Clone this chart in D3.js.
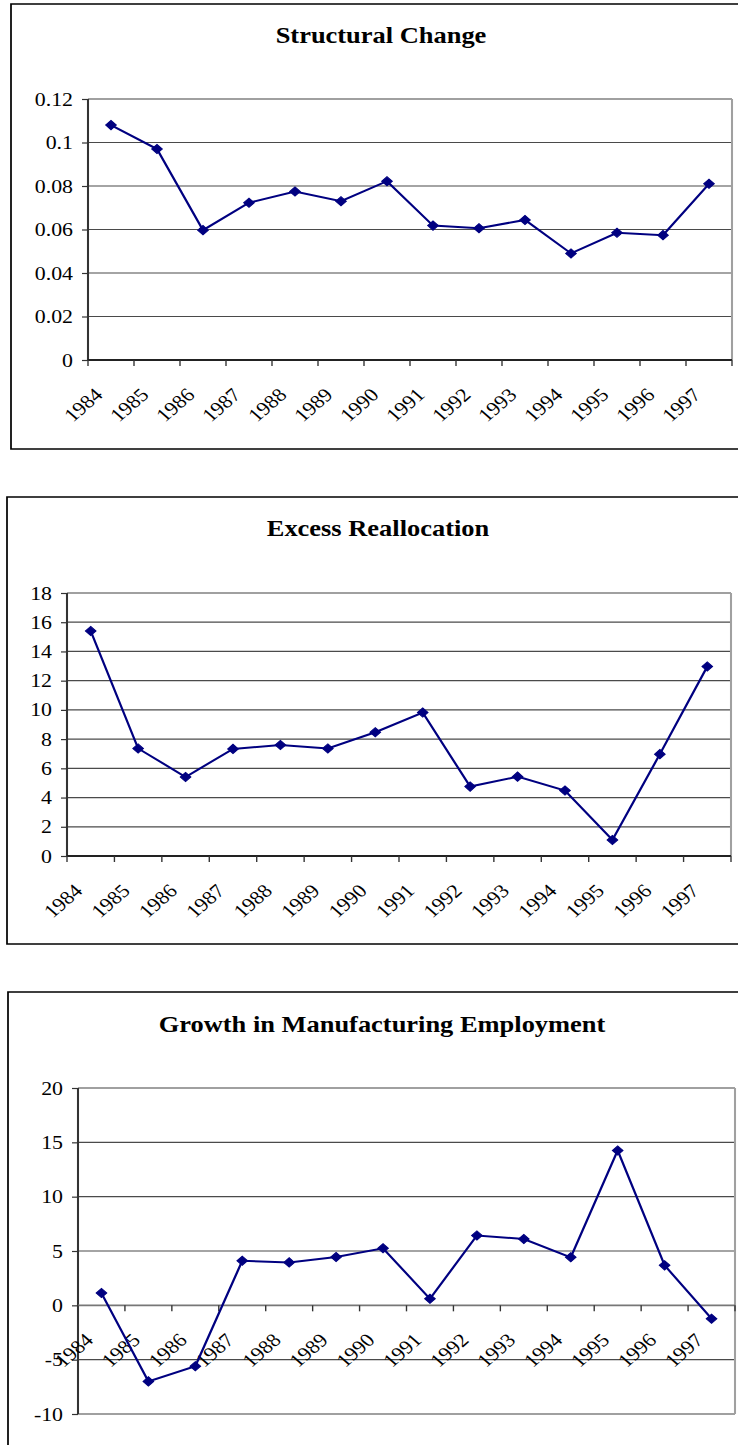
<!DOCTYPE html>
<html>
<head>
<meta charset="utf-8">
<script src="https://cdn.jsdelivr.net/npm/d3@7"></script>
<style>
  body { margin: 0; background: #fff; }
  svg { display: block; }
  text { font-family: "Liberation Serif", "Times New Roman", serif; fill: #000; }
</style>
</head>
<body>
<div id="canvas"></div>
<script>
// data
const years = ["1984", "1985", "1986", "1987", "1988", "1989", "1990",
  "1991", "1992", "1993", "1994", "1995", "1996", "1997"];

const structuralChange = [0.108, 0.097, 0.0597, 0.0723, 0.0775, 0.073, 0.0822,
  0.0618, 0.0606, 0.0644, 0.049, 0.0585, 0.0574, 0.081];
const structuralTicks = [0, 0.02, 0.04, 0.06, 0.08, 0.1, 0.12];

const excessRealloc = [15.4, 7.36, 5.41, 7.33, 7.6, 7.36, 8.47,
  9.82, 4.75, 5.43, 4.48, 1.1, 6.97, 12.97];
const excessTicks = [0, 2, 4, 6, 8, 10, 12, 14, 16, 18];

const mfgGrowth = [1.13, -7.0, -5.6, 4.1, 3.95, 4.45, 5.25,
  0.6, 6.43, 6.1, 4.42, 14.25, 3.68, -1.23];
const mfgTicks = [-10, -5, 0, 5, 10, 15, 20];

// the picture is a bit stretched sideways, so draw narrow and scale x
const SX = 1.15;
const width = 738;
const height = 1445;

const svg = d3.select("#canvas")
  .append("svg")
  .attr("width", width)
  .attr("height", height);

const root = svg.append("g").attr("transform", `scale(${SX},1)`);

function drawPanel(p) {
  const g = root.append("g");

  // outer frame
  g.append("rect")
    .attr("x", p.box.x / SX)
    .attr("y", p.box.y)
    .attr("width", (760 - p.box.x) / SX)
    .attr("height", p.box.h)
    .attr("fill", "#fff")
    .attr("stroke", "#000")
    .attr("stroke-width", 1.5);

  g.append("text")
    .attr("x", p.titleX / SX)
    .attr("y", p.titleY)
    .attr("text-anchor", "middle")
    .style("font-size", "23px")
    .style("font-weight", "bold")
    .text(p.title);

  const x = d3.scaleBand()
    .domain(years)
    .range([p.plot.l / SX, p.plot.r / SX])
    .padding(0);

  const y = d3.scaleLinear()
    .domain(d3.extent(p.ticks))
    .range([p.plot.b, p.plot.t]);

  const axisY = y(p.axisAt);
  const isEdge = (d) => d === d3.max(p.ticks) || d === d3.min(p.ticks);

  // gridlines
  g.selectAll(".grid")
    .data(p.ticks.filter((t) => t !== p.axisAt))
    .enter()
    .append("line")
    .attr("x1", x.range()[0])
    .attr("x2", x.range()[1])
    .attr("y1", (d) => y(d))
    .attr("y2", (d) => y(d))
    .attr("stroke", (d) => (isEdge(d) ? "#a0a0a0" : "#4a4a4a"))
    .attr("stroke-width", (d) => (isEdge(d) ? 1.8 : 1.2));

  // right border
  g.append("line")
    .attr("x1", x.range()[1]).attr("x2", x.range()[1])
    .attr("y1", p.plot.t).attr("y2", p.plot.b)
    .attr("stroke", "#a0a0a0").attr("stroke-width", 1.8);

  // y axis
  const yAxis = d3.axisLeft(y)
    .tickValues(p.ticks)
    .tickSize(6 / SX)
    .tickPadding(9 / SX)
    .tickFormat((d) => String(d));

  const ya = g.append("g")
    .attr("transform", `translate(${x.range()[0]},0)`)
    .call(yAxis);
  ya.select(".domain").remove();
  ya.selectAll(".tick line").attr("stroke", "#333").attr("stroke-width", 1.2);
  ya.selectAll(".tick text")
    .style("font-family", "'Liberation Serif', 'Times New Roman', serif")
    .style("font-size", "19px")
    .attr("fill", "#000");
  g.append("line")
    .attr("x1", x.range()[0]).attr("x2", x.range()[0])
    .attr("y1", p.plot.t).attr("y2", p.plot.b)
    .attr("stroke", "#333").attr("stroke-width", 1.8);

  // x axis line and ticks at band edges
  g.append("line")
    .attr("x1", x.range()[0]).attr("x2", x.range()[1])
    .attr("y1", axisY).attr("y2", axisY)
    .attr("stroke", p.axisAt === d3.min(p.ticks) ? "#222" : "#777")
    .attr("stroke-width", 1.8);

  const edges = years.map((d) => x(d)).concat([x.range()[1]]);
  g.selectAll(".xtick")
    .data(edges)
    .enter()
    .append("line")
    .attr("x1", (d) => d).attr("x2", (d) => d)
    .attr("y1", axisY).attr("y2", axisY + 6)
    .attr("stroke", "#333").attr("stroke-width", 1.2);

  // rotated year labels
  g.selectAll(".xlab")
    .data(years)
    .enter()
    .append("text")
    .attr("transform", (d) =>
      `translate(${x(d) + x.bandwidth() / 2 - 7 / SX},${axisY + 36}) rotate(-45)`)
    .attr("text-anchor", "end")
    .style("font-size", "19px")
    .text((d) => d);

  // series
  const pts = years.map((d, i) => [x(d) + x.bandwidth() / 2, y(p.values[i])]);

  g.append("path")
    .datum(pts)
    .attr("d", d3.line())
    .attr("fill", "none")
    .attr("stroke", "#000080")
    .attr("stroke-width", 2);

  const marker = d3.symbol().type(d3.symbolSquare).size(42);
  g.selectAll(".pt")
    .data(pts)
    .enter()
    .append("path")
    .attr("d", marker)
    .attr("transform", (d) => `translate(${d[0]},${d[1]}) rotate(45)`)
    .attr("fill", "#000080")
    .attr("stroke", "#000080")
    .attr("stroke-width", 1);
}

drawPanel({
  title: "Structural Change",
  titleX: 381, titleY: 43,
  box: { x: 11, y: 4, h: 445 },
  plot: { l: 88, r: 732, t: 99, b: 360 },
  ticks: structuralTicks,
  axisAt: 0,
  values: structuralChange
});

drawPanel({
  title: "Excess Reallocation",
  titleX: 378, titleY: 536,
  box: { x: 7, y: 497, h: 447 },
  plot: { l: 67, r: 731, t: 593, b: 856 },
  ticks: excessTicks,
  axisAt: 0,
  values: excessRealloc
});

drawPanel({
  title: "Growth in Manufacturing Employment",
  titleX: 382, titleY: 1032,
  box: { x: 8, y: 992, h: 480 },
  plot: { l: 78, r: 735, t: 1088, b: 1414 },
  ticks: mfgTicks,
  axisAt: 0,
  values: mfgGrowth
});
</script>
</body>
</html>
